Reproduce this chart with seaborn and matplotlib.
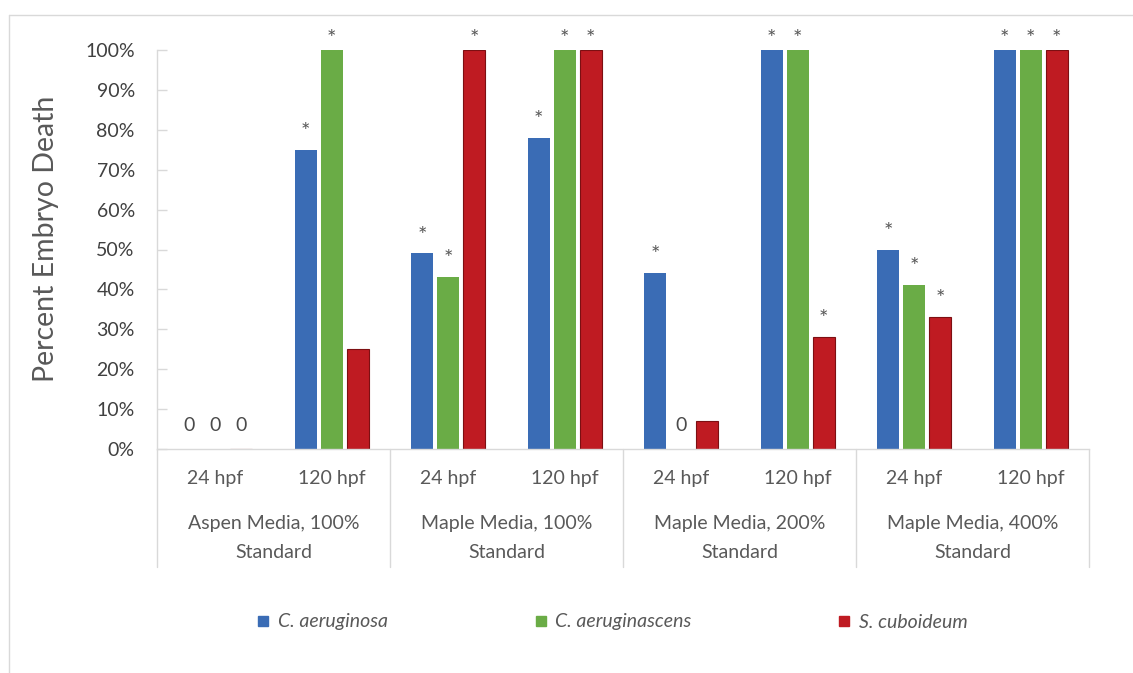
import numpy as np
import pandas as pd
import matplotlib
matplotlib.use("Agg")
import matplotlib.pyplot as plt
import matplotlib.transforms as mtransforms
from matplotlib.lines import Line2D
from matplotlib.ticker import MultipleLocator, PercentFormatter
import seaborn as sns

# ---- data ----
groups = ["Aspen Media, 100%\nStandard", "Maple Media, 100%\nStandard",
          "Maple Media, 200%\nStandard", "Maple Media, 400%\nStandard"]
times = ["24 hpf", "120 hpf"]
species = ["C. aeruginosa", "C. aeruginascens", "S. cuboideum"]
aeruginosa = [0, 75, 49, 78, 44, 100, 50, 100]
aeruginascens = [0, 100, 43, 100, 0, 100, 41, 100]
cuboideum = [0, 25, 100, 100, 7, 28, 33, 100]
aeruginosa_lbl = ["0", "*", "*", "*", "*", "*", "*", "*"]
aeruginascens_lbl = ["0", "*", "*", "*", "0", "*", "*", "*"]
cuboideum_lbl = ["0", "", "*", "*", "", "*", "*", "*"]
colors = ["#3A6CB5", "#6AAC46", "#BF1B22"]

subcats = [f"{g}|{t}" for g in groups for t in times]
rows = []
for sp, vals in zip(species, [aeruginosa, aeruginascens, cuboideum]):
    for sc, v in zip(subcats, vals):
        rows.append({"subcat": sc, "value": v, "species": sp})
df = pd.DataFrame(rows)

sns.set_style("white")
plt.rcParams["font.family"] = ["Lato", "DejaVu Sans"]

W, H = 1133, 673
fig = plt.figure(figsize=(W / 100, H / 100), dpi=100)
ax = fig.add_axes([157 / W, 1 - 449 / H, (1089 - 157) / W, 399 / H])

sns.barplot(data=df, x="subcat", y="value", hue="species", order=subcats,
            hue_order=species, palette=colors, width=0.67, gap=0.15,
            saturation=1, legend=False, ax=ax, linewidth=0)
for bar in ax.containers[2]:
    bar.set_edgecolor("#7d0f12")
    bar.set_linewidth(0.8)

ax.set_xlim(-0.5, 7.5)
ax.set_ylim(0, 100)
ax.set_xlabel("")
ax.set_ylabel("")
ax.yaxis.set_major_locator(MultipleLocator(10))
ax.yaxis.set_major_formatter(PercentFormatter(100, decimals=0))
ax.tick_params(axis="y", direction="in", length=7, width=1, color="#d9d9d9",
               labelcolor="#404040", labelsize=14, pad=16, left=True)
ax.tick_params(axis="x", length=0, labelbottom=False)
for s in ["top", "right"]:
    ax.spines[s].set_visible(False)
for s in ["left", "bottom"]:
    ax.spines[s].set_color("#d9d9d9")
    ax.spines[s].set_linewidth(1)

# labels above bars
for cont, lbls in zip(ax.containers, [aeruginosa_lbl, aeruginascens_lbl, cuboideum_lbl]):
    for bar, lbl in zip(cont, lbls):
        if not lbl:
            continue
        xc = bar.get_x() + bar.get_width() / 2
        h = bar.get_height()
        if lbl == "0":
            ax.text(xc, h + 6, "0", ha="center", va="center", fontsize=14,
                    color="#4a4a4a", clip_on=False)
        else:
            ax.text(xc, min(h + 7, 105.3) - 2.5, "*", ha="center", va="center",
                    fontsize=16, color="#595959", clip_on=False)

# category axis labels
trans = mtransforms.blended_transform_factory(ax.transData, ax.transAxes)
ax_h = 399
for i in range(len(subcats)):
    ax.text(i, -(478.5 - 449) / ax_h, times[i % 2], transform=trans, ha="center",
            va="center", fontsize=14, color="#595959", clip_on=False)
for j, g in enumerate(groups):
    l1, l2 = g.split("\n")
    ax.text(2 * j + 0.5, -(523 - 449) / ax_h, l1, transform=trans, ha="center",
            va="center", fontsize=14, color="#595959", clip_on=False)
    ax.text(2 * j + 0.5, -(552 - 449) / ax_h, l2, transform=trans, ha="center",
            va="center", fontsize=14, color="#595959", clip_on=False)
for xd in np.arange(-0.5, len(subcats) + 0.5, 2):
    ax.plot([xd, xd], [0, -(567 - 449) / ax_h], transform=trans, color="#d9d9d9",
            lw=1, clip_on=False)

# y label
fig.text(46 / W, 1 - 239 / H, "Percent Embryo Death", rotation=90, ha="center",
         va="center", fontsize=20.5, color="#595959")

# legend
handles = [Line2D([], [], marker="s", ls="", markersize=6.5, markerfacecolor=c,
                  markeredgecolor=c) for c in colors]
fig.legend(handles, species, loc="center", bbox_to_anchor=(613 / W, 1 - 622 / H),
           ncol=3, frameon=False, prop={"style": "italic", "size": 14},
           labelcolor="#595959", columnspacing=7.6, handlelength=0.5,
           handletextpad=0.5)

# outer chart border
fig.add_artist(Line2D([9 / W, 1], [1 - 15 / H, 1 - 15 / H], color="#d9d9d9", lw=1,
                      transform=fig.transFigure))
fig.add_artist(Line2D([9 / W, 9 / W], [0, 1 - 15 / H], color="#d9d9d9", lw=1,
                      transform=fig.transFigure))

fig.savefig("out.png", dpi=100)
